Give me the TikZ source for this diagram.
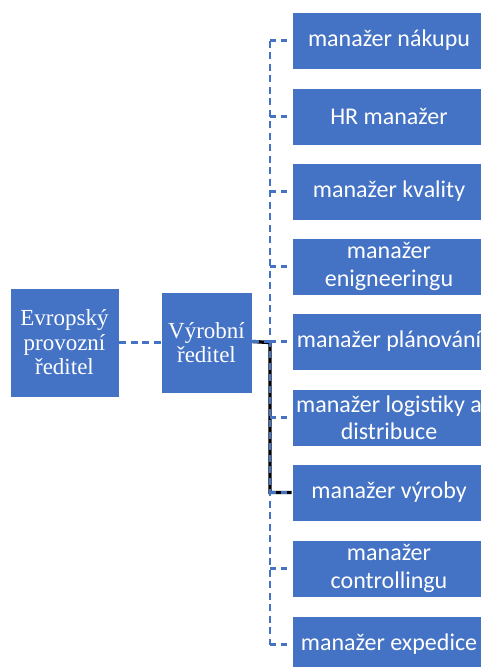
\documentclass[tikz,border=0pt]{standalone}
\usepackage{fontspec}
\setmainfont{Liberation Serif}
\newfontfamily\calibrifont{Carlito}
\definecolor{offblue}{HTML}{4472C4}
\begin{document}
\begin{tikzpicture}[x=1pt,y=-1pt,
  lbox/.style={fill=offblue,draw=white,line width=0.6pt,text=white,align=center,inner sep=0pt,
    font=\fontsize{23}{24.5}\selectfont},
  rbox/.style={fill=offblue,draw=white,line width=0.6pt,text=white,align=center,inner sep=0pt,
    minimum width=194pt,minimum height=57pt,font=\calibrifont\fontsize{24}{27.5}\selectfont},
  conn/.style={draw=offblue,line width=2.2pt,dash pattern=on 7pt off 4.5pt},
  boss/.style={draw=black,line width=3.4pt}]
\useasboundingbox (0,0) rectangle (481,667);
\begin{scope}
\clip (0,0) rectangle (481,667);
\node[lbox,minimum width=109pt,minimum height=109pt] (evr) at (64.5,342.5) {Evropský\\provozní\\ředitel};
\node[lbox,minimum width=91pt,minimum height=101pt] (vyr) at (206.5,342.5) {Výrobní\\ředitel};
\node[rbox] (r1) at (389,40.5) {manažer nákupu};
\node[rbox] (r2) at (389,116.5) {HR manažer};
\node[rbox] (r3) at (389,191.5) {manažer kvality};
\node[rbox] (r4) at (389,266.5) {manažer\\enigneeringu};
\node[rbox] (r5) at (389,341.5) {manažer plánování};
\node[rbox] (r6) at (389,417.5) {manažer logistiky a\\distribuce};
\node[rbox] (r7) at (389,492.5) {manažer výroby};
\node[rbox] (r8) at (389,568.5) {manažer\\controllingu};
\node[rbox] (r9) at (389,644.5) {manažer expedice};
\foreach \i in {1,...,9} {\coordinate (b\i) at (270,0 |- r\i.west);}
\coordinate (bv) at (270,0 |- vyr.east);
% black solid line to manažer výroby
\draw[boss] (vyr.east |- r5.west) -- (bv) -- (b7) -- (r7.west);
% dashed connectors
\draw[conn] (evr.east) -- (vyr.west);
\draw[conn] (b1) -- (b9);
\foreach \i in {1,...,9} {\draw[conn,dash pattern=on 6pt off 5pt] (b\i) -- (r\i.west);}
\draw[conn] (vyr.east |- r5.west) -- (b5);
\end{scope}
\end{tikzpicture}
\end{document}
